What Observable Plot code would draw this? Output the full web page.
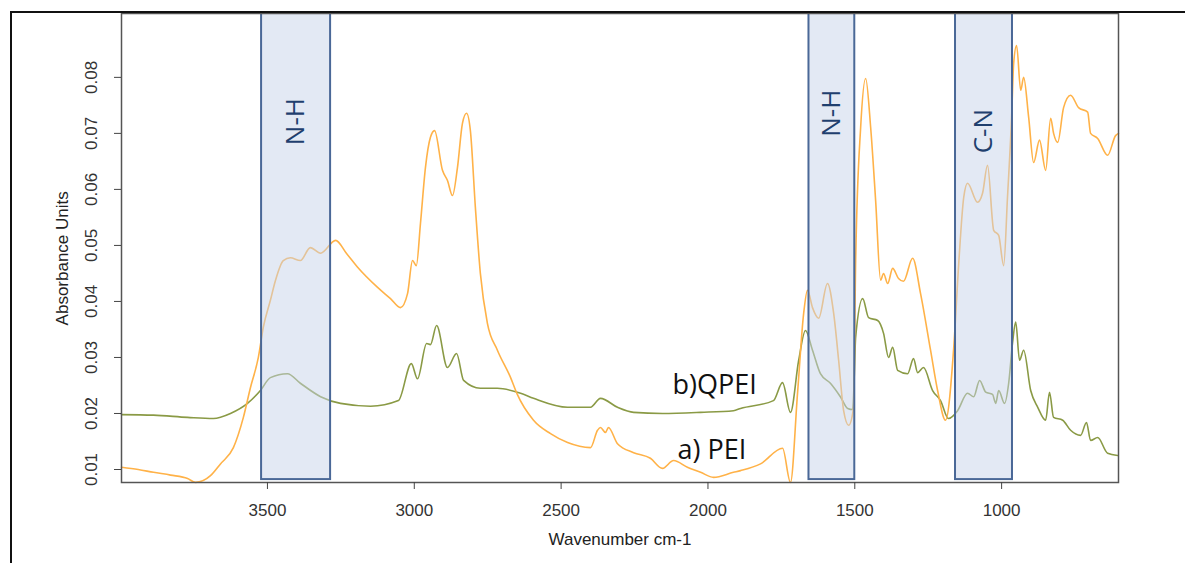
<!DOCTYPE html>
<html>
<head>
<meta charset="utf-8">
<script src="https://cdn.jsdelivr.net/npm/d3@7"></script>
<script src="https://cdn.jsdelivr.net/npm/@observablehq/plot@0.6"></script>
<style>
  html, body { margin: 0; padding: 0; background: #fff; }
  #wrap { position: relative; width: 1185px; height: 563px; overflow: hidden; }
  #border { position: absolute; left: 10px; top: 11px; width: 1300px; height: 700px;
            border-top: 2px solid #111; border-left: 2px solid #111; pointer-events: none; }
</style>
</head>
<body>
<div id="wrap"><div id="chart"></div><div id="border"></div></div>
<script>
// a) PEI spectrum (wavenumber cm-1, absorbance)
const peiWavenumber = [3997,3940,3888,3830,3772,3745,3694,3660,3616,3582,3558,3531,3514,3490,3473,3446,3422,3388,3354,3319,3268,3230,3193,3125,3081,3047,3023,3006,2993,2979,2962,2945,2931,2904,2887,2870,2853,2836,2822,2809,2792,2775,2751,2717,2672,2650,2594,2536,2478,2400,2376,2366,2349,2339,2308,2253,2196,2155,2117,2070,2025,1981,1913,1889,1821,1746,1719,1695,1674,1661,1644,1623,1593,1572,1555,1538,1521,1504,1497,1480,1463,1446,1429,1412,1402,1388,1371,1351,1334,1303,1276,1242,1218,1191,1163,1146,1129,1116,1082,1065,1048,1027,1010,993,980,966,959,949,935,925,908,891,871,850,833,823,809,789,765,738,707,697,673,639,612,602];
const peiAbsorbance = [0.0104,0.0100,0.0095,0.0090,0.0084,0.0077,0.0089,0.0110,0.0139,0.0193,0.0246,0.0300,0.0354,0.0402,0.0437,0.0473,0.0478,0.0473,0.0496,0.0486,0.0509,0.0485,0.0461,0.0425,0.0405,0.0389,0.0414,0.0473,0.0464,0.0539,0.0639,0.0693,0.0705,0.0634,0.0616,0.0589,0.0639,0.0718,0.0736,0.0705,0.0568,0.0450,0.0361,0.0313,0.0264,0.0235,0.0188,0.0164,0.0148,0.0139,0.0170,0.0175,0.0166,0.0175,0.0146,0.0130,0.0120,0.0102,0.0116,0.0104,0.0095,0.0086,0.0095,0.0098,0.0110,0.0138,0.0077,0.0236,0.0379,0.0420,0.0389,0.0370,0.0432,0.0379,0.0295,0.0205,0.0179,0.0211,0.0473,0.0711,0.0798,0.0711,0.0580,0.0438,0.0450,0.0432,0.0459,0.0441,0.0436,0.0477,0.0414,0.0313,0.0241,0.0188,0.0318,0.0468,0.0586,0.0611,0.0577,0.0593,0.0643,0.0527,0.0518,0.0464,0.0586,0.0729,0.0825,0.0857,0.0777,0.0800,0.0729,0.0648,0.0688,0.0634,0.0727,0.0700,0.0684,0.0746,0.0768,0.0746,0.0738,0.0700,0.0691,0.0661,0.0696,0.0700];

// b) QPEI spectrum
const qpeiWavenumber = [3997,3888,3772,3684,3626,3568,3524,3490,3432,3388,3319,3251,3149,3054,3010,2989,2958,2945,2924,2887,2856,2832,2775,2717,2638,2594,2478,2400,2366,2308,2253,2155,2025,1913,1889,1777,1746,1719,1691,1668,1644,1617,1583,1548,1524,1507,1497,1473,1453,1422,1402,1385,1371,1354,1320,1300,1286,1266,1235,1208,1181,1150,1116,1095,1075,1054,1031,1020,1010,990,976,963,952,939,925,901,877,850,837,823,792,765,731,711,697,673,639,605];
const qpeiAbsorbance = [0.0198,0.0197,0.0193,0.0191,0.0200,0.0218,0.0241,0.0264,0.0271,0.0254,0.0230,0.0218,0.0213,0.0223,0.0289,0.0262,0.0325,0.0323,0.0357,0.0282,0.0307,0.0259,0.0245,0.0245,0.0236,0.0227,0.0211,0.0211,0.0227,0.0211,0.0202,0.0200,0.0202,0.0205,0.0209,0.0223,0.0255,0.0202,0.0295,0.0348,0.0313,0.0271,0.0254,0.0229,0.0209,0.0207,0.0336,0.0405,0.0371,0.0366,0.0343,0.0300,0.0318,0.0277,0.0271,0.0298,0.0273,0.0282,0.0241,0.0223,0.0191,0.0205,0.0236,0.0230,0.0259,0.0238,0.0234,0.0218,0.0241,0.0218,0.0254,0.0325,0.0363,0.0295,0.0313,0.0241,0.0211,0.0188,0.0238,0.0193,0.0188,0.0170,0.0161,0.0184,0.0152,0.0157,0.0129,0.0125];

// Highlighted bands
const bandStart = [3520, 1656, 1157];
const bandEnd = [3285, 1500, 963];
const bandLabel = ["N-H", "N-H", "C-N"];
const bandLabelY = [0.0721, 0.0736, 0.0704];

// Axis ticks
const xTicks = [3500, 3000, 2500, 2000, 1500, 1000];
const yTicks = [0.01, 0.02, 0.03, 0.04, 0.05, 0.06, 0.07, 0.08];

// Curve labels
const curveLabel = ["b)QPEI", "a) PEI"];
const curveLabelX = [2121, 2104];
const curveLabelY = [0.0250, 0.0134];

const X_DOMAIN = [3997, 602];
const Y_DOMAIN = [0.00768, 0.0914];

const pei = peiWavenumber.map((w, i) => ({w, a: peiAbsorbance[i]}));
const qpei = qpeiWavenumber.map((w, i) => ({w, a: qpeiAbsorbance[i]}));
const bands = bandStart.map((s, i) => ({s, e: bandEnd[i], label: bandLabel[i], ly: bandLabelY[i]}));
const curves = curveLabel.map((t, i) => ({t, x: curveLabelX[i], y: curveLabelY[i]}));

const chart = Plot.plot({
  width: 1185,
  height: 563,
  marginLeft: 121,
  marginRight: 67,
  marginTop: 13,
  marginBottom: 81,
  style: {fontFamily: "'Liberation Sans', Arial, sans-serif", fontSize: "17px", color: "#333", background: "#fff"},
  x: {domain: X_DOMAIN},
  y: {domain: Y_DOMAIN},
  marks: [
    Plot.line(qpei, {x: "w", y: "a", stroke: "#8a9a45", strokeWidth: 1.6, curve: "monotone-x"}),
    Plot.line(pei, {x: "w", y: "a", stroke: "#ffb248", strokeWidth: 1.6, curve: "monotone-x"}),
    Plot.rect(bands, {x1: "s", x2: "e", y1: 0.0082, y2: Y_DOMAIN[1], fill: "rgb(199,211,233)", fillOpacity: 0.5,
      stroke: "#4a6897", strokeWidth: 2}),
    Plot.text(bands, {x: d => (d.s + d.e) / 2, y: "ly", text: "label", rotate: -90, fill: "#1f3f6e",
      fontSize: 26, fontFamily: "'Open Sans', sans-serif"}),
    Plot.text(curves, {x: "x", y: "y", text: "t", textAnchor: "start", fill: "#111",
      fontSize: 27, fontFamily: "'Open Sans', sans-serif"}),
    Plot.frame({stroke: "#555", strokeWidth: 1.5}),
    Plot.axisX({ticks: xTicks, tickSize: 7, tickPadding: 14, label: null, tickFormat: d => String(d),
      fill: "#333", stroke: "#444"}),
    Plot.axisY({ticks: yTicks, tickSize: 7, tickFormat: () => "", label: null, stroke: "#444"}),
    Plot.text(yTicks, {y: d => d, frameAnchor: "left", dx: -30, rotate: -90, textAnchor: "middle",
      text: d => d.toFixed(2), fill: "#333", fontSize: 17}),
    Plot.text(["Absorbance Units"], {y: 0.0477, frameAnchor: "left", dx: -59, rotate: -90, textAnchor: "middle",
      text: d => d, fill: "#222", fontSize: 17}),
    Plot.text(["Wavenumber cm-1"], {frameAnchor: "bottom", dy: 62, text: d => d, fill: "#222", fontSize: 17})
  ]
});
document.getElementById("chart").appendChild(chart);
</script>
</body>
</html>
